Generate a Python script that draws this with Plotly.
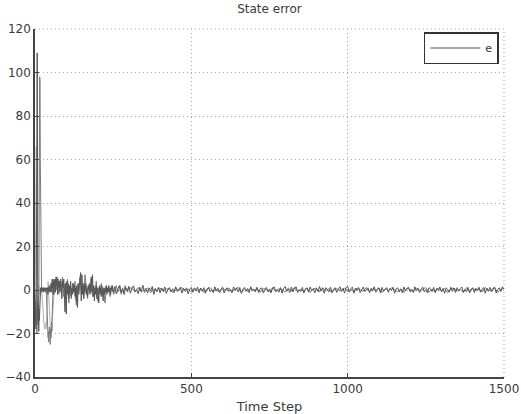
import plotly.graph_objects as go

# ---- data ----
steps_a = list(range(0, 61)) + list(range(62, 251, 2)) + list(range(255, 1501, 5))
err_a_early = [-5, -12, -8, -18, -6, 30, 80, 109, 70, -10,
               -16, -7, -19, -9, -14, -6, -3, 0, 1, 0,
               1, 0, -1, 1, 0, 1, 0, 1, -1, 0,
               1, 0, 1, 0, -1, 0, 1, 0, 1, 0,
               1, -2, 1, 0, -1, 2, 0, 1, -1, 0,
               2, 3, -1, 4, 2, 5, 1, 4, -2, 3, 5]
err_a_mid = [4, -1, 5, 2, 6, -2, 5, 1, 4, -1,
             5, 0, -4, 4, 1, 5, -3, -10, 3, -11,
             4, -2, 3, -4, 2, -1, 4, -3, 1, -2,
             3, -1, 2, -3, 1, -5, 2, -8, 3, -2,
             2, 5, 8, -5, 7, -2, 3, -4, 2, -1,
             3, -2, 1, -3, 2, 0, 3, -2, 4, 6,
             -1, 7, -3, 2, -5, 1, -2, 2, -4, 1,
             -1, -6, 2, -2, 1, -3, 2, -1, -5, 1,
             -2, 1, -1, 2, -2, 1, -1, 2, -1, 1,
             -2, 1, 0, 2, -1]
err_a_tail = [1.5, -1.8, 0.6, 2.0, -1.2, 0.3, -2.1, 1.1, -0.4, 1.7,
              -1.5, 0.8, 1.9, -0.9, 0.2, -1.7, 1.3, -0.6, 2.2, -1.1,
              0.4, -1.4, 1.0, -0.3, 1.6, -2.0, 0.7, -0.8, 1.2, -1.3,
              0.9, -0.5, 1.4, -1.6, 0.3, 1.1, -0.9, 0.6, -1.2, 1.5,
              -0.7, 0.2, 1.3, -1.4, 0.8, -0.2, 1.0, -1.8, 0.5, 1.2,
              -1.0, 0.7, -0.4, 1.4, -1.3, 0.9, -0.6, 1.1, -1.5, 0.4,
              1.2, -0.8, 0.3, -1.2, 1.5, -0.5, 0.8, -1.1, 0.6, 1.3,
              -1.4, 0.5, 1.0, -0.7, 0.2, -1.3, 1.4, -0.3, 0.9, -1.0,
              1.1, -1.6, 0.4, 1.2, -0.6, 0.7, -1.2, 1.5, -0.4, 0.3,
              -0.9, 1.3, -1.1, 0.6, 1.0, -1.4, 0.2, 1.2, -0.8, 0.5,
              -1.3, 0.9, 1.4, -0.5, 0.3, -1.0, 1.1, -1.5, 0.7, 1.6,
              -0.6, 0.4, -1.2, 1.3, -0.9, 0.8, 1.5, -1.1, 0.2, -0.7,
              1.2, -1.4, 0.6, 0.9, -1.0, 1.4, -0.3, 0.5, -1.3, 1.0,
              -0.8, 1.6, -0.4, 0.7, -1.5, 1.1, 0.3, -0.9, 1.3, -1.2,
              0.5, 1.0, -1.1, 0.4, 1.5, -0.6, 0.8, -1.4, 1.2, 1.7,
              -1.0, 0.6, 1.3, -1.5, 0.9, -0.3, 1.1, -1.2, 0.4, 1.4,
              -0.7, 0.2, 1.0, -1.3, 0.8, -0.5, 1.5, -1.0, 0.3, 0.9,
              -1.4, 1.2, -0.6, 0.5, 1.1, -1.1, 0.7, -0.2, 1.3, -1.5,
              0.6, 1.0, -0.9, 0.4, -1.3, 1.4, -0.5, 0.8, 1.2, -1.0,
              0.3, -1.2, 1.5, -0.4, 0.9, -1.1, 0.6, 1.3, -0.8, 0.2,
              -1.4, 1.1, 0.5, -0.7, 1.2, -1.3, 0.8, -0.2, 1.4, -0.9,
              0.7, -1.5, 1.0, 0.3, -1.0, 1.3, -0.6, 0.9, -1.2, 1.1,
              -0.4, 0.6, 1.4, -1.1, 0.2, -0.8, 1.2, -1.4, 0.5, 1.0,
              -1.2, 0.8, -0.3, 1.3, -1.0, 0.4, 1.1, -1.5, 0.9, -0.5,
              1.2, -0.9, 0.6, 1.4, -1.3, 0.3, 1.0, -0.7, 1.5, 0.4]
err_a = err_a_early + err_a_mid + err_a_tail

steps_b = list(range(0, 71)) + list(range(72, 301, 4)) + list(range(310, 1501, 10))
err_b_early = [0, -4, -10, -6, -15, -8, -20, -11, -5, -14,
               -9, -3, -12, 20, 75, 98, 96, 60, 30, 8,
               1, 0, 1, 1, 0, 1, 1, 0, 1, 1,
               0, 1, 1, 0, 1, 1, 0, -3, -8, -14,
               -18, -16, -22, -19, -24, -20, -17, -23, -21, -25,
               -18, -22, -20, -15, -19, -12, -6, -1, 2, 0,
               3, -2, 4, 1, 5, -1, 3, 6, 0, 4, 2]
err_b_mid = [5, -2, 4, 0, 6, -3, 3, -1, 5, -6,
             2, -4, 3, -1, 4, -7, 2, 0, 6, -2,
             3, -3, 7, 1, -4, 2, -1, 5, -3, 1,
             -2, 4, -5, 1, -1, 3, -2, 0, -6, 2,
             -1, 1, -3, 2, 0, -2, 1, 2, -1, 0,
             2, -2, 1, -1, 2, 0, -1, 1]
err_b_tail = [0.8, -0.6, 1.1, -1.0, 0.3, 0.9, -1.2, 0.5, -0.4, 1.0,
              -0.8, 0.6, 0.2, -1.1, 0.9, -0.3, 1.2, -0.7, 0.4, -0.9,
              1.0, -0.5, 0.7, -1.0, 0.3, 1.1, -0.6, 0.2, -1.2, 0.8,
              -0.3, 0.9, -0.8, 0.5, 1.2, -1.0, 0.4, -0.6, 1.0, -0.2,
              0.6, -1.1, 0.8, 0.1, -0.7, 1.1, -0.9, 0.5, 0.3, -1.0,
              0.9, -0.4, 1.2, -0.8, 0.2, -0.6, 1.0, -1.1, 0.7, 0.4,
              -0.9, 1.1, -0.3, 0.6, -1.2, 0.8, 0.2, -0.5, 1.0, -0.7,
              0.4, -1.0, 0.9, 0.3, -0.6, 1.2, -0.8, 0.5, -0.2, 1.1,
              -1.1, 0.7, -0.4, 1.0, 0.2, -0.9, 0.6, -1.2, 0.8, 0.3,
              -0.5, 1.0, -0.7, 0.4, 1.1, -1.0, 0.3, -0.6, 0.9, -0.3,
              0.7, -1.2, 0.5, 0.9, -0.4, 0.2, -1.0, 1.1, -0.6, 0.8,
              -0.2, 0.6, -0.9, 1.2, -0.5, 0.3, 1.0, -1.1, 0.4, 0.6]
err_b = err_b_early + err_b_mid + err_b_tail

steps_c = list(range(0, 81, 2))
err_c = [0, 20, 66, 50, 10, -5, 2, 0, -2, 1,
         0, -1, -6, -12, -16, -18, -17, -15, -18, -10,
         2, 4, -3, -10, -16, -19, -20, -17, -12, -8,
         -3, 1, 4, 2, 5, 1, 3, -1, 2, 0, 1]

x_ticks = [0, 500, 1000, 1500]
y_ticks = [-40, -20, 0, 20, 40, 60, 80, 100, 120]

FONT = "DejaVu Sans, Liberation Sans, sans-serif"
GRID = "#a8a8a8"

fig = go.Figure()
fig.add_trace(go.Scatter(x=steps_c, y=err_c, mode="lines", name="e3",
                         line=dict(color="#b4b4b4", width=1), showlegend=False))
fig.add_trace(go.Scatter(x=steps_b, y=err_b, mode="lines", name="e2",
                         line=dict(color="#7a7a7a", width=1), showlegend=False))
fig.add_trace(go.Scatter(x=steps_a, y=err_a, mode="lines", name="e",
                         line=dict(color="#555555", width=1), showlegend=True))

axis_common = dict(
    showgrid=True, gridcolor=GRID, griddash="1px,3px", gridwidth=1,
    zeroline=False, showline=True, linecolor="#444444", linewidth=1.5,
    ticks="inside", ticklen=4, tickcolor="#444444", automargin=False,
    ticklabeloverflow="allow",
    tickfont=dict(family=FONT, size=12, color="#3a3a3a"),
)

fig.update_layout(
    width=521, height=414,
    margin=dict(l=35, r=17, t=29, b=37),
    paper_bgcolor="white", plot_bgcolor="white",
    title=dict(text="State error", x=0.5, xref="paper", y=1 - 9 / 414,
               yref="container", yanchor="middle", xanchor="center",
               font=dict(family=FONT, size=12, color="#3a3a3a")),
    xaxis=dict(range=[0, 1500], tickvals=x_ticks, **axis_common,
               title=dict(text="Time Step", standoff=10,
                          font=dict(family=FONT, size=13, color="#3a3a3a"))),
    yaxis=dict(range=[-40, 120], tickvals=y_ticks, **axis_common),
    legend=dict(x=0.989, y=1 - (48 - 29) / 348, xanchor="right", yanchor="middle",
                bgcolor="white", bordercolor="#333333", borderwidth=1.5,
                font=dict(family=FONT, size=11, color="#333333"),
                itemwidth=50, tracegroupgap=0),
    showlegend=True,
    shapes=[
        dict(type="line", xref="paper", yref="paper", x0=0, x1=1, y0=1, y1=1,
             line=dict(color=GRID, width=1, dash="1px,3px"), layer="below"),
        dict(type="line", xref="paper", yref="paper", x0=1, x1=1, y0=0, y1=1,
             line=dict(color=GRID, width=1, dash="1px,3px"), layer="below"),
    ],
)

fig.write_html("out.html")
